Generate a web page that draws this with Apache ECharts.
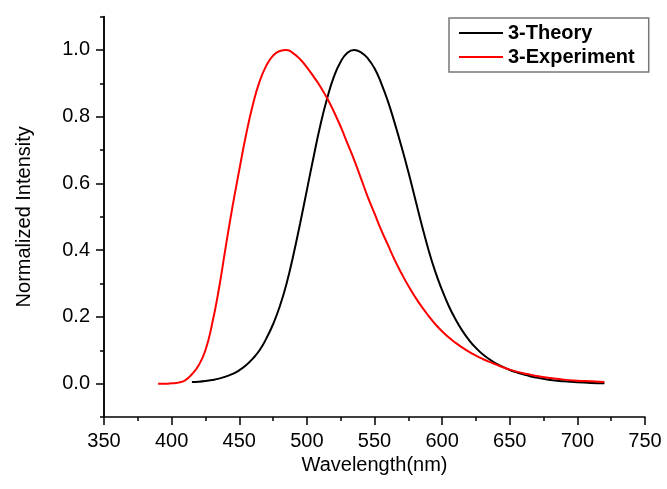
<!DOCTYPE html>
<html>
<head>
<meta charset="utf-8">
<script src="https://cdn.jsdelivr.net/npm/echarts@6/dist/echarts.min.js"></script>
<style>
html,body{margin:0;padding:0;background:#fff;}
#chart{width:667px;height:489px;}
</style>
</head>
<body>
<div id="chart"></div>
<script>
var theoryX = [415,420,425,430,435,440,445,450,455,460,465,470,475,480,485,490,495,500,505,510,515,520,525,530,535,540,545,550,555,560,565,570,575,580,585,590,595,600,605,610,615,620,625,630,635,640,645,650,655,660,665,670,680,690,700,710,720];
var theoryY = [0.005,0.006,0.008,0.011,0.015,0.021,0.029,0.040,0.055,0.075,0.100,0.135,0.178,0.232,0.300,0.385,0.480,0.580,0.680,0.775,0.855,0.920,0.965,0.992,1.000,0.993,0.975,0.945,0.900,0.845,0.780,0.710,0.635,0.555,0.475,0.400,0.335,0.280,0.232,0.192,0.158,0.130,0.107,0.088,0.073,0.060,0.050,0.041,0.034,0.028,0.022,0.018,0.011,0.007,0.004,0.002,0.001];
var exptX = [390,395,400,405,410,415,420,425,430,435,440,445,450,455,460,465,470,475,480,485,490,495,500,505,510,515,520,525,530,535,540,545,550,555,560,565,570,575,580,585,590,595,600,605,610,615,620,625,630,635,640,645,650,655,660,665,670,680,690,700,710,720];
var exptY = [0.000,0.000,0.001,0.003,0.010,0.028,0.055,0.100,0.180,0.285,0.410,0.530,0.640,0.745,0.835,0.905,0.953,0.983,0.997,1.000,0.990,0.972,0.948,0.920,0.890,0.855,0.815,0.770,0.720,0.670,0.615,0.560,0.510,0.460,0.415,0.370,0.330,0.293,0.260,0.230,0.203,0.178,0.157,0.138,0.122,0.108,0.095,0.084,0.074,0.065,0.057,0.049,0.042,0.036,0.031,0.027,0.023,0.017,0.012,0.009,0.007,0.005];
var seriesNames = ['3-Theory','3-Experiment'];
var yTickLabels = [0.0,0.2,0.4,0.6,0.8,1.0];
var xTickLabels = [350,400,450,500,550,600,650,700,750];

function zip(a,b){var r=[];for(var i=0;i<a.length;i++){r.push([a[i],b[i]]);}return r;}

var FONT = '"Liberation Sans", Arial, sans-serif';
var chart = echarts.init(document.getElementById('chart'), null, {renderer:'canvas'});
chart.setOption({
  animation:false,
  backgroundColor:'#fff',
  grid:{left:104,right:22,top:16.6,bottom:72,containLabel:false,outerBoundsMode:'none'},
  legend:{
    orient:'vertical',left:449,top:18,
    padding:[5,14,5,10],itemGap:4,itemWidth:44,itemHeight:22,
    borderColor:'#777',borderWidth:1.5,
    icon:'path://M0,0 L44,0 L44,2 L0,2 Z',
    textStyle:{fontFamily:FONT,fontSize:20,fontWeight:'bold',color:'#000'},
    data:[{name:seriesNames[0],itemStyle:{color:'#000'}},{name:seriesNames[1],itemStyle:{color:'#ff0000'}}]
  },
  xAxis:{
    type:'value',min:xTickLabels[0],max:xTickLabels[xTickLabels.length-1],interval:50,
    name:'Wavelength(nm)',nameLocation:'middle',nameGap:38,
    nameTextStyle:{fontFamily:FONT,fontSize:20,color:'#000'},
    axisLine:{show:true,onZero:false,lineStyle:{color:'#000',width:1.5}},
    axisTick:{show:true,inside:false,length:8,lineStyle:{color:'#000',width:1.5}},
    minorTick:{show:true,splitNumber:2,length:4,lineStyle:{color:'#000',width:1.5}},
    axisLabel:{fontFamily:FONT,fontSize:20,color:'#000',margin:14},
    splitLine:{show:false}
  },
  yAxis:[{
    type:'value',min:-0.1,max:1.1,interval:0.1,position:'left',
    name:'Normalized Intensity',nameLocation:'middle',nameGap:70,
    nameTextStyle:{fontFamily:FONT,fontSize:20,color:'#000'},
    axisLine:{show:true,lineStyle:{color:'#000',width:1.5,type:'solid'}},
    axisTick:{show:true,inside:false,length:4,lineStyle:{color:'#000',width:1.5}},
    axisLabel:{show:false},
    splitLine:{show:false}
  },{
    type:'value',min:-0.1,max:1.1,position:'left',offset:0,
    axisLine:{show:false},
    axisTick:{show:true,inside:false,length:8,customValues:yTickLabels,lineStyle:{color:'#000',width:1.5}},
    axisLabel:{show:true,customValues:yTickLabels,fontFamily:FONT,fontSize:20,color:'#000',margin:14,
      formatter:function(v){return Number(v).toFixed(1);}},
    splitLine:{show:false}
  }],
  series:[{
    name:seriesNames[0],type:'line',data:zip(theoryX,theoryY),yAxisIndex:0,
    showSymbol:false,symbol:'none',smooth:0.5,
    lineStyle:{color:'#000',width:2},itemStyle:{color:'#000'},z:2
  },{
    name:seriesNames[1],type:'line',data:zip(exptX,exptY),yAxisIndex:0,
    showSymbol:false,symbol:'none',smooth:0.5,
    lineStyle:{color:'#ff0000',width:2},itemStyle:{color:'#ff0000'},z:3
  }]
});
// ensure the left axis line is drawn (positions taken from the chart's own scales)
var pBottom = chart.convertToPixel({xAxisIndex:0,yAxisIndex:0},[xTickLabels[0],-0.1]);
var pTop = chart.convertToPixel({xAxisIndex:0,yAxisIndex:0},[xTickLabels[0],1.1]);
chart.setOption({graphic:[{type:'line',shape:{x1:pBottom[0],y1:pBottom[1],x2:pTop[0],y2:pTop[1]},
  style:{stroke:'#000',lineWidth:1.5},z:10,silent:true}]});
</script>
</body>
</html>
